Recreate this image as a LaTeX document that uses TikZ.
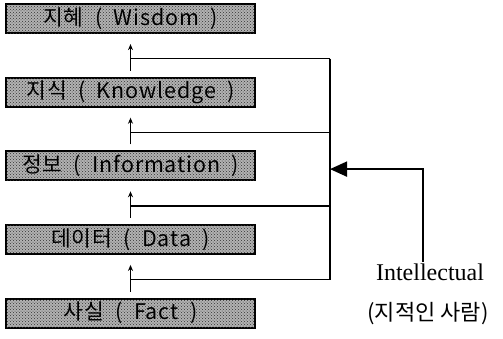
\documentclass[tikz,border=0pt]{standalone}
\usepackage{fontspec}
\setmainfont{Liberation Serif}
\newfontfamily\krfont{Noto Sans CJK KR}
\newfontfamily\boxfont[LetterSpace=4,WordSpace=2]{Noto Sans CJK KR}
\usepackage{tikz}
\usetikzlibrary{arrows.meta,calc,patterns,positioning}

\begin{document}
\begin{tikzpicture}[x=1pt,y=-1pt,line width=1.4pt,
    levelbox/.style={draw=black,line width=2pt,fill=black!30,
      postaction={pattern=crosshatch dots,pattern color=black!80},
      minimum width=249pt,minimum height=29pt,inner sep=0pt,
      font=\boxfont\fontsize{21.5}{22}\selectfont,text=black},
    uparrow/.style={line width=1.2pt,-{Stealth[length=6pt,width=5pt]}},
    railline/.style={line width=1.8pt}]
  \useasboundingbox (0,0) rectangle (503,338);
  % the five levels
  \node[levelbox] (fact) at (130.5,313) {사실 ( Fact )};
  \node[levelbox,above=42.6pt of fact] (data) {데이터 ( Data )};
  \node[levelbox,above=42.6pt of data] (info) {정보 ( Information )};
  \node[levelbox,above=42.6pt of info] (know) {지식 ( Knowledge )};
  \node[levelbox,above=42.6pt of know] (wis) {지혜 ( Wisdom )};
  \coordinate (rail) at (330,0);
  % steps between levels
  \foreach \lo/\hi in {fact/data,data/info,info/know,know/wis}{
    \draw[uparrow] ([yshift=6pt]\lo.north) -- ([yshift=-10pt]\hi.south);
    \coordinate (br\lo) at ([yshift=18pt]\lo.north);
    \draw (br\lo) -- (br\lo -| rail);
  }
  \draw[railline] (brknow -| rail) -- (brfact -| rail);
  \coordinate (joint) at ($(brknow -| rail)!0.5!(brfact -| rail)$);
  % the person
  \node[inner sep=1pt,font=\fontsize{24}{28}\selectfont] (intel) at (430,272) {Intellectual};
  \node[inner sep=1pt,font=\krfont\fontsize{22}{26}\selectfont] (intelkr) at (428,314) {(지적인 사람)};
  \draw[railline,-{Triangle[length=17pt,width=15pt]}] ([xshift=-7pt]intel.north) |- (joint);
\end{tikzpicture}
\end{document}
